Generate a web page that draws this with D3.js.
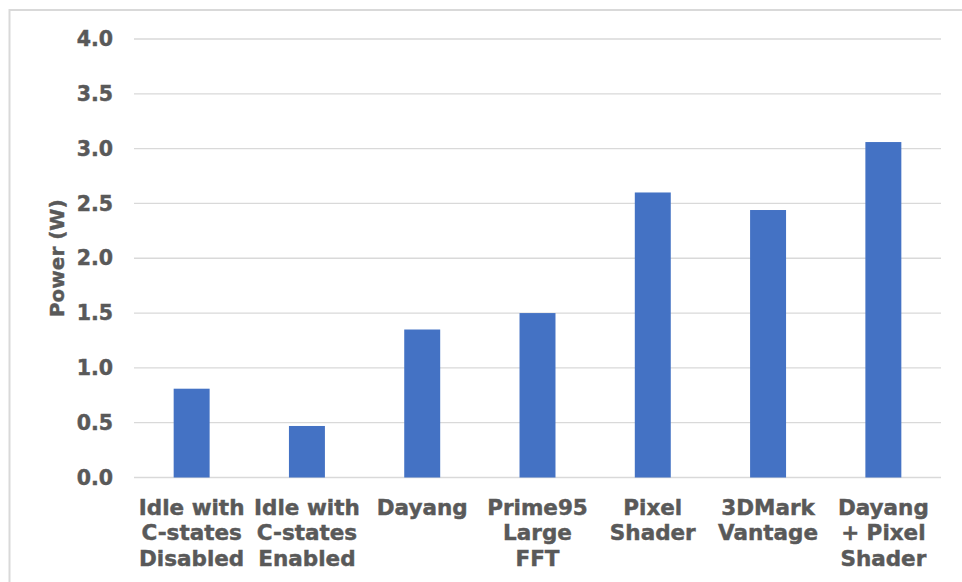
<!DOCTYPE html>
<html>
<head>
<meta charset="utf-8">
<script src="https://cdn.jsdelivr.net/npm/d3@7"></script>
<style>
  html, body { margin: 0; padding: 0; background: #fff; }
  svg { display: block; }
  text { font-family: "DejaVu Sans", Verdana, sans-serif; font-weight: bold; fill: #595959; stroke: #595959; stroke-width: 0.45px; }
</style>
</head>
<body>
<svg id="chart" width="962" height="582"></svg>
<script>
// Workload categories (each entry is split into display lines)
const categories = [
  ["Idle with", "C-states", "Disabled"],
  ["Idle with", "C-states", "Enabled"],
  ["Dayang"],
  ["Prime95", "Large", "FFT"],
  ["Pixel", "Shader"],
  ["3DMark", "Vantage"],
  ["Dayang", "+ Pixel", "Shader"]
];
// Measured power per workload, in watts
const powerValues = [0.81, 0.47, 1.35, 1.50, 2.60, 2.44, 3.06];
const yTicks = [0, 0.5, 1.0, 1.5, 2.0, 2.5, 3.0, 3.5, 4.0];
const yTitle = "Power (W)";

const svg = d3.select("#chart");
const W = 962, H = 582;

// outer chart border (left and top visible)
svg.append("rect")
  .attr("x", 9.5).attr("y", 10)
  .attr("width", W + 20).attr("height", H + 20)
  .attr("fill", "none").attr("stroke", "#d9d9d9").attr("stroke-width", 2);

const plot = { left: 134, right: 941, top: 39, bottom: 477.5 };

const ids = categories.map((d, i) => i);
const x = d3.scaleBand().domain(ids).range([plot.left, plot.right]).paddingInner(0.688).paddingOuter(0.344);
const y = d3.scaleLinear().domain([0, 4]).range([plot.bottom, plot.top]);

// gridlines
svg.append("g")
  .selectAll("line")
  .data(yTicks)
  .join("line")
  .attr("x1", plot.left).attr("x2", plot.right)
  .attr("y1", d => y(d)).attr("y2", d => y(d))
  .attr("stroke", "#d9d9d9").attr("stroke-width", 1.3);

// y axis labels
const yAxis = d3.axisLeft(y).tickValues(yTicks).tickFormat(d3.format(".1f")).tickSize(0).tickPadding(21);
const gy = svg.append("g").attr("transform", `translate(${plot.left},0)`).call(yAxis);
gy.select(".domain").remove();
gy.selectAll("text")
  .style("font-size", "20.5px")
  .style("font-family", "'DejaVu Sans', Verdana, sans-serif")
  .style("font-weight", "bold")
  .attr("fill", "#595959");

// bars
svg.append("g")
  .selectAll("rect")
  .data(powerValues)
  .join("rect")
  .attr("x", (d, i) => x(i))
  .attr("width", x.bandwidth())
  .attr("y", d => y(d))
  .attr("height", d => y(0) - y(d))
  .attr("fill", "#4472C4");

// category labels
const xl = svg.append("g");
categories.forEach((lines, i) => {
  const t = xl.append("text")
    .attr("x", x(i) + x.bandwidth() / 2)
    .attr("y", 514.5)
    .attr("text-anchor", "middle")
    .style("font-size", "21.5px");
  lines.forEach((ln, j) => {
    t.append("tspan")
      .attr("x", x(i) + x.bandwidth() / 2)
      .attr("dy", j === 0 ? 0 : 25.5)
      .text(ln);
  });
});

// y axis title
svg.append("text")
  .attr("transform", `translate(64,${(plot.top + plot.bottom) / 2}) rotate(-90)`)
  .attr("text-anchor", "middle")
  .style("font-size", "20px")
  .text(yTitle);
</script>
</body>
</html>
